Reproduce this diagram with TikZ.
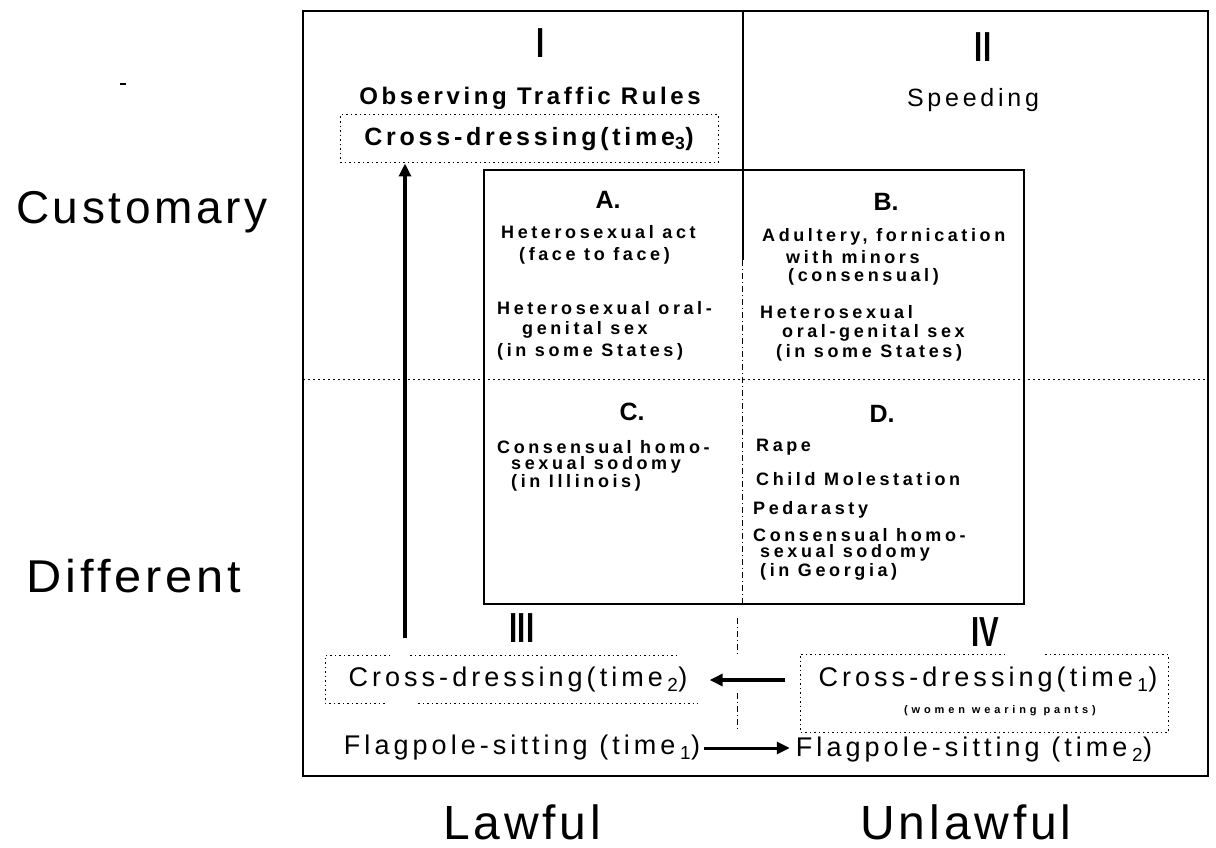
\documentclass[tikz,border=0pt]{standalone}
\usepackage{fontspec}
\setmainfont{Liberation Sans}
\newfontfamily\bigfont[LetterSpace=8]{Liberation Sans}
\newfontfamily\headfont[LetterSpace=15]{Liberation Sans}
\newfontfamily\condfont[LetterSpace=15]{Liberation Sans}
\newfontfamily\innerfont[LetterSpace=20]{Liberation Sans}
\newfontfamily\tinyfont[LetterSpace=35]{Liberation Sans}
\usetikzlibrary{arrows.meta}
\tikzset{
  axislab/.style={font=\bigfont\fontsize{46}{50}\selectfont, inner sep=0pt},
  roman/.style={font=\bfseries\fontsize{42}{44}\selectfont, inner sep=0pt, xscale=0.7},
  quadlab/.style={font=\headfont\fontsize{24}{26}\selectfont, inner sep=0pt},
  cdlab/.style={font=\condfont\fontsize{27}{29}\selectfont, inner sep=0pt},
  cell/.style={font=\innerfont\bfseries\fontsize{18}{20}\selectfont, inner sep=0pt, anchor=west},
  letter/.style={font=\bfseries\fontsize{25}{27}\selectfont, inner sep=0pt},
  frame/.style={line width=1.6pt},
  dotbox/.style={line width=1pt, dash pattern=on 1.5pt off 3pt},
  dashdot/.style={line width=1pt, dash pattern=on 6pt off 3pt on 1pt off 3pt},
  fatarrow/.style={line width=3.5pt, -{Triangle[length=13pt,width=12pt]}},
}
\begin{document}
\begin{tikzpicture}[x=1pt,y=-1pt]
\useasboundingbox (0,0) rectangle (1216,848);
% stray mark
\draw[line width=2pt] (120,84) -- (126,84);
% frames
\draw[frame] (303,11) rectangle (1208,776);
\draw[frame] (743,11) -- (743,260);
\draw[dashdot] (742,260) -- (742,604);
\draw[dashdot] (737,618) -- (737,655);
\draw[dashdot] (737,693) -- (737,732);
\draw[line width=1pt, dash pattern=on 2pt off 3pt] (303,379) -- (1208,379);
\draw[frame] (484,170) rectangle (1024,604);
% axis labels
\node[axislab] (cust) at (142,212) {Customary};
\node[axislab, xscale=1.06] (diff) at (134,576) {Different};
\node[axislab, font=\bigfont\fontsize{48}{50}\selectfont] (law) at (522,822) {Lawful};
\node[axislab, font=\bigfont\fontsize{48}{50}\selectfont] (unlaw) at (966,822) {Unlawful};
% roman numerals
\node[roman] (q1) at (541,43) {I};
\node[roman] (q2) at (983,47) {II};
\node[roman] (q3) at (522,628) {III};
\node[roman] (q4) at (985,632) {IV};
% quadrant I & II
\node[quadlab, font=\headfont\bfseries\fontsize{24}{26}\selectfont] (otr) at (530,98) {Observing Traffic Rules};
\node[font=\headfont\bfseries\fontsize{25}{27}\selectfont, draw, dotbox, minimum width=378pt, minimum height=48pt, inner sep=0pt] (t3) at (529,139) {Cross-dressing(time\textsubscript{3})};
\node[quadlab, font=\condfont\fontsize{25}{27}\selectfont] (spd) at (973,100) {Speeding};
% quadrants III & IV
\node[cdlab] (t2) at (518,680) {Cross-dressing(time\,\textsubscript{2})};
\draw[dotbox] (390,655) -- (325,655) -- (325,703) -- (387,703);
\draw[dotbox] (410,655) -- (680,655);
\draw[dotbox] (418,703) -- (698,703);
\node[cdlab] (t1) at (988,680) {Cross-dressing(time\,\textsubscript{1})};
\node[font=\tinyfont\bfseries\fontsize{11}{12}\selectfont, inner sep=0pt] (pants) at (1000,711) {(women wearing pants)};
\draw[dotbox] (1005,654) -- (800,654) -- (800,732) -- (1168,732) -- (1168,654) -- (1043,654);
\node[cdlab] (f1) at (522,748) {Flagpole-sitting (time\,\textsubscript{1})};
\node[cdlab] (f2) at (974,750) {Flagpole-sitting (time\,\textsubscript{2})};
% arrows
\coordinate (up0) at (405,638);
\draw[fatarrow] (up0) -- (up0 |- t3.south);
\draw[fatarrow, shorten <=33pt, shorten >=22pt] (t2.east -| t1.west) -- (t2.east);
\draw[fatarrow, line width=3pt, shorten <=4pt, shorten >=6pt] (f1.east) -- (f1.east -| f2.west);
% cell letters
\node[letter] (la) at (608,200) {A.};
\node[letter] (lb) at (886,202) {B.};
\node[letter] (lc) at (632,412) {C.};
\node[letter] (ld) at (882,414) {D.};
% cell A
\node[cell] (a1) at (501,232) {Heterosexual act};
\node[cell] (a2) at (519,256) {(face to face)};
\node[cell] (a3) at (497,308) {Heterosexual oral-};
\node[cell] (a4) at (522,330) {genital sex};
\node[cell] (a5) at (497,352) {(in some States)};
% cell B
\node[cell] (b1) at (762,237) {Adultery, fornication};
\node[cell] (b2) at (786,257) {with minors};
\node[cell] (b3) at (788,277) {(consensual)};
\node[cell] (b4) at (760,312) {Heterosexual};
\node[cell] (b5) at (782,333) {oral-genital sex};
\node[cell] (b6) at (776,353) {(in some States)};
% cell C
\node[cell] (c1) at (497,447) {Consensual homo-};
\node[cell] (c2) at (511,465) {sexual sodomy};
\node[cell] (c3) at (511,483) {(in Illinois)};
% cell D
\node[cell] (d1) at (756,447) {Rape};
\node[cell] (d2) at (756,479) {Child Molestation};
\node[cell] (d3) at (753,510) {Pedarasty};
\node[cell] (d4) at (753,535) {Consensual homo-};
\node[cell] (d5) at (760,553) {sexual sodomy};
\node[cell] (d6) at (760,572) {(in Georgia)};
\end{tikzpicture}
\end{document}
